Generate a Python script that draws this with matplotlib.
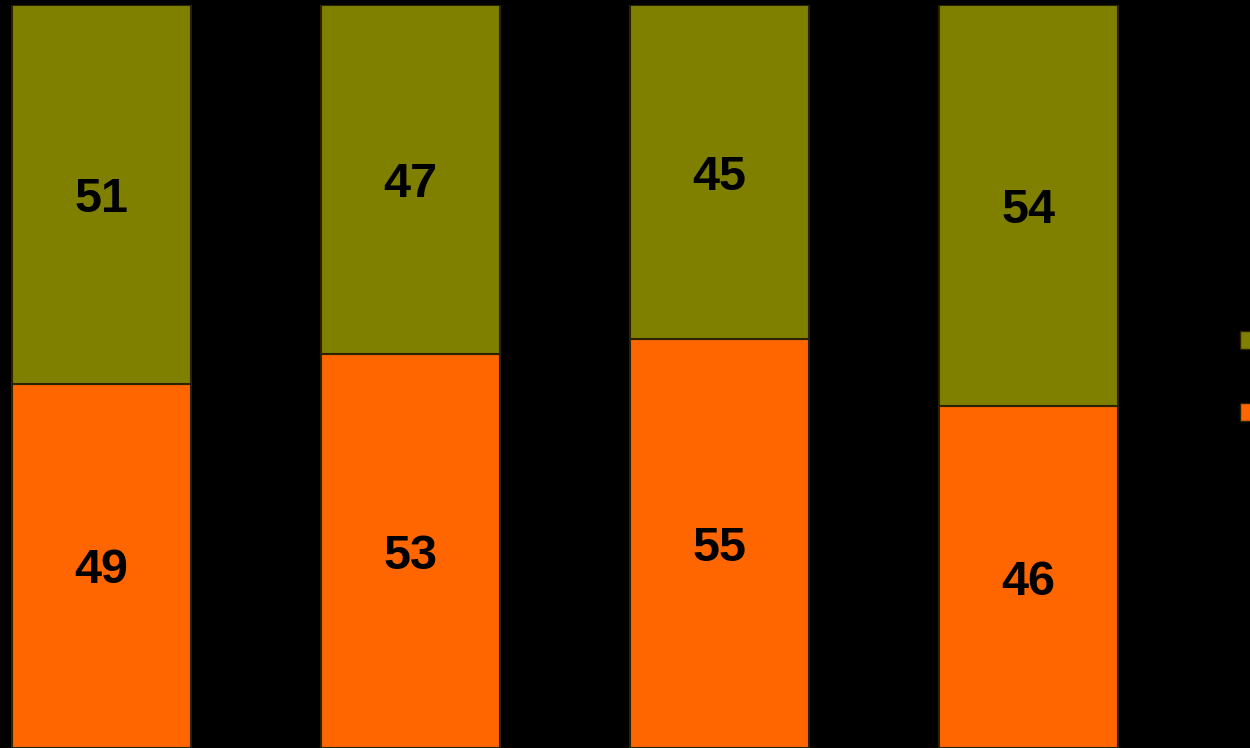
import numpy as np
import matplotlib
matplotlib.use('Agg')
import matplotlib.pyplot as plt
from matplotlib.patches import Patch

# data (100% stacked shares)
groups = ['Group 1', 'Group 2', 'Group 3', 'Group 4']
bottom_share = [49, 53, 55, 46]   # orange
top_share = [51, 47, 45, 54]      # olive
colors = ['#808000', '#FF6600']

plt.rcParams['font.family'] = ['Liberation Sans', 'DejaVu Sans']

fig = plt.figure(figsize=(12.5, 7.48), dpi=100, facecolor='black')
ax = fig.add_axes([0, 0, 1, 743 / 748])
ax.set_facecolor('black')

x = np.arange(len(groups))
w = 0.58
ax.bar(x, bottom_share, w, color=colors[1], edgecolor='#2b2200', linewidth=1.5)
ax.bar(x, top_share, w, bottom=bottom_share, color=colors[0],
       edgecolor='#2b2200', linewidth=1.5)

for xi, lo, hi in zip(x, bottom_share, top_share):
    ax.text(xi, lo / 2, str(lo), ha='center', va='center_baseline', fontsize=35,
            fontweight='bold', color='black')
    ax.text(xi, lo + hi / 2, str(hi), ha='center', va='center_baseline', fontsize=35,
            fontweight='bold', color='black')

ax.set_xlim(-101.5 / 309, (1250 - 101.5) / 309)
ax.set_ylim(0, 100)
ax.axis('off')

# legend keys only; their labels sit beyond the right edge in the reference
handles = [Patch(facecolor=colors[0], edgecolor='#2b2200'),
           Patch(facecolor=colors[1], edgecolor='#2b2200')]
fig.legend(handles, ['', ''], loc='center left', bbox_to_anchor=(1240 / 1250, 1 - 377 / 748),
           frameon=False, fontsize=14, handlelength=1.0, handleheight=1.0,
           labelspacing=2.7, borderpad=0, borderaxespad=0, handletextpad=0.5)

fig.savefig('out.png', dpi=100, facecolor='black')
